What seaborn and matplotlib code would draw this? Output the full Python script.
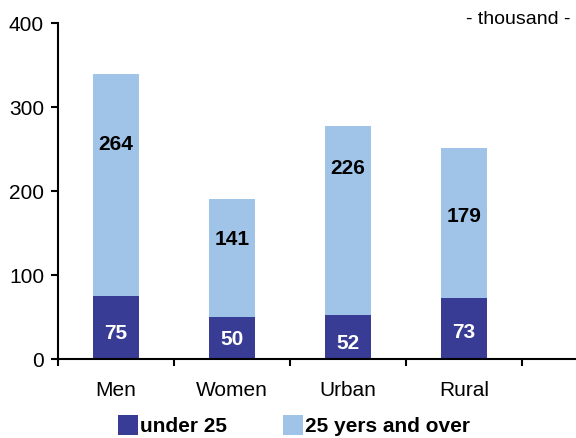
import matplotlib
matplotlib.use("Agg")
import matplotlib.pyplot as plt
import seaborn as sns
import pandas as pd
from matplotlib.patches import Patch

# data (thousand persons)
categories = ["Men", "Women", "Urban", "Rural"]
under25 = [75, 50, 52, 73]
over25 = [264, 141, 226, 179]
# label heights (as in the original layout)
over_label_y = [255, 142, 227, 170]
under_label_y = [31, 23, 19, 32]

dark = "#383C94"
light = "#A0C4E8"

sns.set_style("white")
plt.rcParams["font.family"] = ["Liberation Sans", "DejaVu Sans"]
plt.rcParams["text.color"] = "black"
plt.rcParams["xtick.color"] = "black"
plt.rcParams["ytick.color"] = "black"

df = pd.DataFrame({"cat": categories, "under": under25, "over": over25})
df["total"] = df["under"] + df["over"]

fig = plt.figure(figsize=(5.76, 4.38), dpi=100)
ax = fig.add_axes([0.1007, 0.180, 0.899, 0.767])

sns.barplot(data=df, x="cat", y="total", color=light, width=0.4,
            saturation=1, linewidth=0, ax=ax)
sns.barplot(data=df, x="cat", y="under", color=dark, width=0.4,
            saturation=1, linewidth=0, ax=ax)

for i in range(len(categories)):
    ax.text(i, over_label_y[i], str(over25[i]), ha="center", va="center",
            fontsize=15, fontweight="bold", color="black")
    ax.text(i, under_label_y[i], str(under25[i]), ha="center", va="center",
            fontsize=15, fontweight="bold", color="white")

ax.set_ylim(0, 400)
ax.set_yticks([0, 100, 200, 300, 400])
ax.set_xlim(-0.5, -0.5 + 518 / 116)
ax.set_xlabel("")
ax.set_ylabel("")

for s in ["top", "right"]:
    ax.spines[s].set_visible(False)
for s in ["left", "bottom"]:
    ax.spines[s].set_linewidth(1.5)
    ax.spines[s].set_color("black")

ax.tick_params(axis="y", direction="out", length=5, width=1.5,
               labelsize=15, pad=5, left=True)
ax.tick_params(axis="x", which="major", length=0, labelsize=15, pad=16)
ax.set_xticks([-0.5, 0.5, 1.5, 2.5, 3.5], minor=True)
ax.tick_params(axis="x", which="minor", direction="out", length=5,
               width=1.5, bottom=True)

fig.text(0.99, 0.955, "- thousand -", ha="right", va="center", fontsize=14)

handles = [Patch(facecolor=dark, edgecolor="none"),
           Patch(facecolor=light, edgecolor="none")]
leg = fig.legend(handles, ["under 25", "25 yers and over"], ncol=2,
                 loc="lower center", bbox_to_anchor=(0.51, -0.038),
                 frameon=False, handlelength=0.95, handleheight=1.1,
                 handletextpad=0.1, columnspacing=2.7,
                 prop={"size": 15, "weight": "bold"})

fig.savefig("out.png", dpi=100)
